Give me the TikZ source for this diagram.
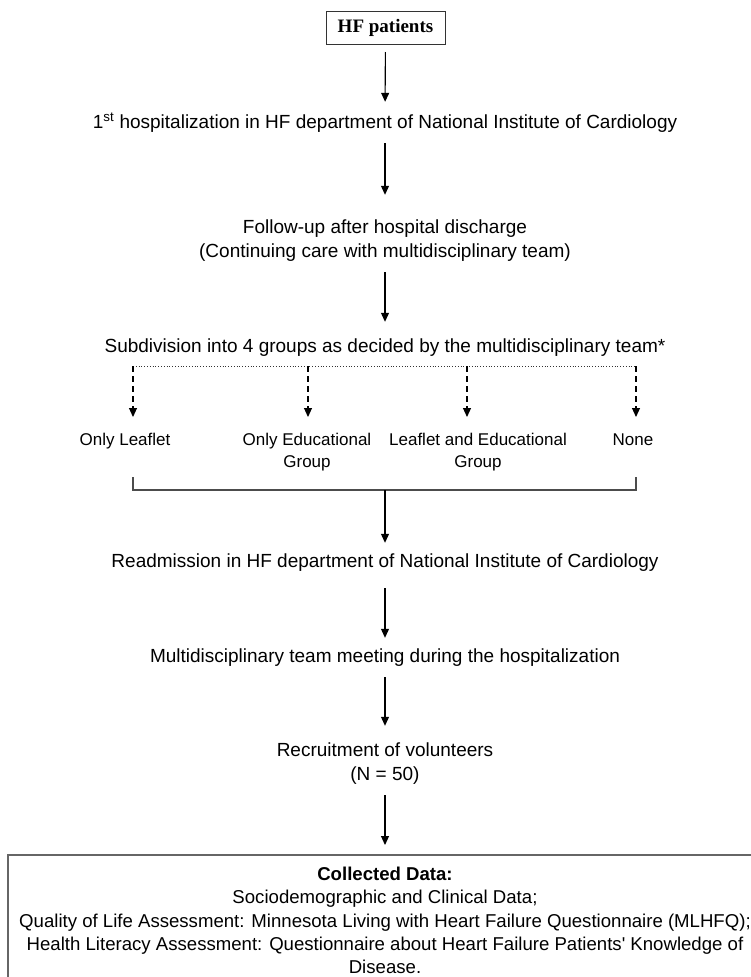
\documentclass[tikz,border=0pt]{standalone}
\usepackage{fontspec}
\setmainfont{Liberation Sans}
\newfontfamily\timesfont{Liberation Serif}
\usetikzlibrary{arrows.meta,positioning}

\begin{document}
\begin{tikzpicture}[x=1pt, y=-1pt,
  font=\fontsize{19}{23.5}\selectfont,
  steptext/.style={align=center, inner xsep=0pt, inner ysep=11pt,
    text height=15pt, text depth=4pt, anchor=base},
  grouptext/.style={align=center, inner sep=0pt, anchor=base,
    font=\fontsize{17}{22}\selectfont},
  flow/.style={black, line width=1.1pt, -{Triangle[length=9pt,width=8pt]}},
  split/.style={black, line width=1.1pt, dash pattern=on 6pt off 4pt,
    -{Triangle[length=9pt,width=8pt]}}]

\useasboundingbox (0,0) rectangle (751,977);
\clip (0,0) rectangle (751,977);

% START
  \node[draw=black!80, line width=1pt, minimum width=119, minimum height=33, outer ysep=8pt,
        font=\fontsize{19}{20}\timesfont\bfseries] (hf) at (385.5,27.5) {HF patients};

% STEPS
  \node[steptext] (hosp)   at (385,128) {1\textsuperscript{st} hospitalization in HF department of National Institute of Cardiology};
  \node[steptext, text height=51pt] (follow) at (385,257) {Follow-up after hospital discharge\\(Continuing care with multidisciplinary team)};
  \node[steptext, text height=19pt] (sub)    at (385,352) {Subdivision into 4 groups as decided by the multidisciplinary team*};

% GROUPS
  \node[grouptext] (leaflet) at (125,445) {Only Leaflet};
  \node[grouptext] (edu)     at (307,467) {Only Educational\\Group};
  \node[grouptext] (both)    at (478,467) {Leaflet and Educational\\Group};
  \node[grouptext] (none)    at (633,445) {None};

  \draw[black!80, thick, dotted] (133,366) -- (636,366);
  \foreach \x/\name in {133/a, 308/b, 467/c, 636/d}{
    \coordinate (top\name) at (\x,366);
    \coordinate (end\name) at (\x,417);
    \draw[split] (top\name) -- (end\name);
  }

% BRACKET
  \coordinate (lup)  at (133,477);
  \coordinate (rup)  at (636,477);
  \coordinate (join) at (385,490);
  \draw[black!70, line width=1.1pt] (lup) -- (lup |- join) -- (rup |- join) -- (rup);

  \node[steptext, text height=13pt, text depth=10pt] (readm) at (385,567) {Readmission in HF department of National Institute of Cardiology};
  \node[steptext, text height=13pt] (meet)    at (385,662) {Multidisciplinary team meeting during the hospitalization};
  \node[steptext, text height=43pt] (recruit) at (385,780) {Recruitment of volunteers\\(N = 50)};

% DATA
  \node[draw=black!60, line width=1.1pt, anchor=north, minimum width=754, align=center,
        inner ysep=12pt, outer ysep=10pt, text depth=40pt,
        font=\fontsize{18.6}{23.3}\selectfont] (data) at (385,845)
    {\textbf{Collected Data:}\\
     Sociodemographic and Clinical Data;\\
     Quality of Life Assessment: Minnesota Living with Heart Failure Questionnaire (MLHFQ);\\
     Health Literacy Assessment: Questionnaire about Heart Failure Patients\textquotesingle\ Knowledge of\\
     Disease.};

% ARROWS
  \draw[flow] (hf) -- (hosp);
  \draw[flow] (hosp) -- (follow);
  \draw[flow] (follow) -- (sub);
  \draw[flow] (join) -- (readm);
  \draw[flow] (readm) -- (meet);
  \draw[flow] (meet) -- (recruit);
  \draw[flow] (recruit) -- (data);
\end{tikzpicture}
\end{document}
